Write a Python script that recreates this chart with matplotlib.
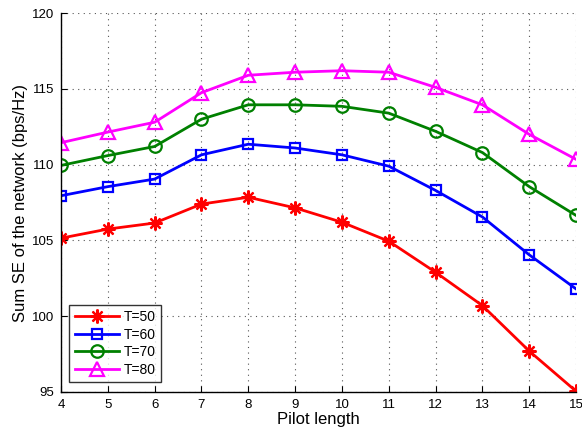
import matplotlib
matplotlib.use("Agg")
import matplotlib.pyplot as plt

plt.rcParams['font.family'] = ['Liberation Sans', 'DejaVu Sans']

pilot_length = [4, 5, 6, 7, 8, 9, 10, 11, 12, 13, 14, 15]
se_t50 = [105.15, 105.75, 106.15, 107.4, 107.85, 107.15, 106.2, 104.95, 102.9, 100.7, 97.7, 95.05]
se_t60 = [107.95, 108.55, 109.05, 110.65, 111.35, 111.1, 110.65, 109.9, 108.3, 106.55, 104.05, 101.8]
se_t70 = [109.95, 110.6, 111.2, 113.0, 113.95, 113.95, 113.85, 113.4, 112.2, 110.8, 108.55, 106.65]
se_t80 = [111.45, 112.15, 112.8, 114.75, 115.9, 116.1, 116.2, 116.1, 115.1, 113.95, 112.0, 110.35]
labels = ['T=50', 'T=60', 'T=70', 'T=80']
y_ticks = [95, 100, 105, 110, 115, 120]

fig = plt.figure(figsize=(5.82, 4.33), dpi=100)
ax = fig.add_axes([0.1048, 0.0947, 0.885, 0.875])

ax.plot(pilot_length, se_t50, color='#ff0000', lw=2, marker=(8, 2, 0), ms=10,
        mew=1.6, label=labels[0])
ax.plot(pilot_length, se_t60, color='#0000ff', lw=2, marker='s', ms=7,
        mfc='none', mew=1.6, label=labels[1])
ax.plot(pilot_length, se_t70, color='#008000', lw=2, marker='o', ms=9,
        mfc='none', mew=1.6, label=labels[2])
ax.plot(pilot_length, se_t80, color='#ff00ff', lw=2, marker='^', ms=10,
        mfc='none', mew=1.6, label=labels[3])

ax.set_xlim(4, 15)
ax.set_ylim(95, 120)
ax.set_xticks(pilot_length)
ax.set_yticks(y_ticks)
ax.tick_params(direction='in', labelsize=9.5, length=4, pad=5)
ax.grid(True, linestyle=(0, (1, 4)), color='#555555', linewidth=0.8)
for side in ('top', 'right'):
    ax.spines[side].set_visible(False)
for side in ('left', 'bottom'):
    ax.spines[side].set_linewidth(1.0)

ax.set_xlabel('Pilot length', fontsize=12, labelpad=1)
ax.set_ylabel('Sum SE of the network (bps/Hz)', fontsize=12, labelpad=3)

leg = ax.legend(loc='lower left', bbox_to_anchor=(0.008, 0.015), fontsize=10,
                frameon=True, fancybox=False, edgecolor='black', handlelength=3.2,
                borderpad=0.4, labelspacing=0.25, handletextpad=0.3, borderaxespad=0.3)
leg.get_frame().set_linewidth(1.0)

fig.savefig('out.png', dpi=100)
